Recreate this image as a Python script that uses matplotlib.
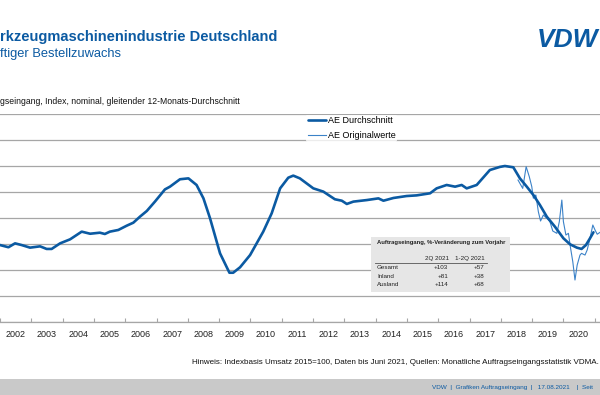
import matplotlib.pyplot as plt
from matplotlib.lines import Line2D

avg_time = [2002.00, 2002.27, 2002.48, 2002.69, 2002.96, 2003.28, 2003.49, 2003.65,
            2003.92, 2004.24, 2004.61, 2004.88, 2005.19, 2005.35, 2005.51, 2005.78,
            2006.05, 2006.26, 2006.47, 2006.69, 2006.95, 2007.27, 2007.43, 2007.75,
            2008.02, 2008.28, 2008.50, 2008.71, 2009.03, 2009.33, 2009.45, 2009.67,
            2009.99, 2010.41, 2010.68, 2010.95, 2011.21, 2011.37, 2011.58, 2012.01,
            2012.33, 2012.70, 2012.92, 2013.08, 2013.29, 2013.72, 2014.09, 2014.25,
            2014.57, 2014.99, 2015.31, 2015.74, 2015.95, 2016.27, 2016.54, 2016.75,
            2016.91, 2017.23, 2017.65, 2017.97, 2018.13, 2018.40, 2018.61, 2018.83,
            2019.04, 2019.25, 2019.47, 2019.73, 2020.00, 2020.21, 2020.43, 2020.58,
            2020.72, 2020.85, 2020.96]
avg_value = [59.2, 57.5, 60.5, 59.2, 57.2, 58.2, 56.2, 56.2,
             60.5, 63.6, 69.5, 67.9, 68.7, 67.7, 69.5, 70.8,
             74.1, 76.4, 81.0, 85.4, 92.6, 102.0, 104.1, 109.8,
             110.5, 105.4, 95.1, 79.8, 52.8, 37.9, 37.9, 42.1,
             51.5, 69.5, 83.6, 102.8, 111.0, 112.6, 110.5, 102.8,
             100.3, 94.4, 93.3, 90.8, 92.6, 93.8, 95.1, 93.3,
             95.4, 96.9, 97.4, 99.0, 102.8, 105.4, 104.1, 105.4,
             102.8, 105.4, 116.9, 119.3, 120.0, 119.0, 110.5, 104.1,
             97.7, 90.0, 81.0, 73.3, 64.4, 59.8, 57.2, 56.2,
             59.2, 64.4, 69.0]

orig_time = [2018.55, 2018.70, 2018.81, 2018.91, 2018.99, 2019.04, 2019.12, 2019.20,
             2019.27, 2019.36, 2019.47, 2019.57, 2019.66, 2019.79, 2019.87, 2019.95,
             2020.00, 2020.08, 2020.16, 2020.23, 2020.30, 2020.37, 2020.44, 2020.53,
             2020.58, 2020.69, 2020.76, 2020.85, 2020.94, 2021.01, 2021.08, 2021.17]
orig_value = [109.2, 102.8, 119.5, 111.8, 104.1, 95.2, 97.7, 84.8,
              77.7, 82.3, 79.8, 77.2, 70.0, 68.2, 77.2, 93.8,
              77.2, 66.9, 68.2, 56.7, 46.4, 32.3, 43.8, 51.5,
              52.8, 51.5, 55.4, 64.4, 74.6, 70.8, 67.5, 69.0]

years = list(range(2002, 2022))
label_years = list(range(2002, 2021))

table_cols = ["2Q 2021", "1-2Q 2021"]
table_rows = ["Gesamt", "Inland", "Ausland"]
table_q2 = ["+103", "+81", "+114"]
table_h1 = ["+57", "+38", "+68"]

W, H = 600, 395
BLUE = "#0b5aa2"
THIN = "#3b82c8"
GRID = "#a6a6a6"

plt.rcParams["font.family"] = ["Liberation Sans", "DejaVu Sans"]


def fx(x):
    return x / W


def fy(y):
    return 1 - y / H


fig = plt.figure(figsize=(6, 3.95), dpi=100)

# Kopfzeile
fig.text(fx(0), fy(37), "rkzeugmaschinenindustrie Deutschland", fontsize=10.5,
         fontweight="bold", color=BLUE, va="center", ha="left")
fig.text(fx(0), fy(54), "ftiger Bestellzuwachs", fontsize=9.3, color=BLUE,
         va="center", ha="left")
fig.text(fx(0), fy(101), "gseingang, Index, nominal, gleitender 12-Monats-Durchschnitt",
         fontsize=6.2, color="#111111", va="center", ha="left")

# Logo
fig.text(fx(598), fy(40), "VDW", fontsize=19, fontweight="bold", fontstyle="italic",
         color=BLUE, va="center", ha="right")
for yy in (41, 45, 49):
    fig.add_artist(Line2D([fx(536), fx(600)], [fy(yy), fy(yy)], color="white", lw=0.9))

# Diagramm
ax = fig.add_axes([0, fy(322), 1, (322 - 114) / H])
ax.plot(orig_time, orig_value, color=THIN, lw=0.8, label="AE Originalwerte", zorder=3)
ax.plot(avg_time, avg_value, color=BLUE, lw=1.9, label="AE Durchschnitt", zorder=4,
        solid_capstyle="round")
ax.set_xlim(2002.0, 2002 + W / 31.3)
ax.set_ylim(0, 160)
ax.set_yticks(range(0, 161, 20))
ax.yaxis.grid(True, color=GRID, lw=0.9)
ax.tick_params(axis="y", left=False, labelleft=False)
for s in ("top", "left", "right"):
    ax.spines[s].set_visible(False)
ax.spines["bottom"].set_color(GRID)
ax.spines["bottom"].set_linewidth(0.9)
ax.set_xticks(years)
ax.set_xticklabels([])
ax.set_xticks([y + 0.5 for y in label_years], minor=True)
ax.set_xticklabels([str(y) for y in label_years], minor=True, fontsize=6.5, color="#222222")
ax.tick_params(axis="x", which="major", direction="in", length=3, color=GRID)
ax.tick_params(axis="x", which="minor", length=0, pad=6)

handles, labels = ax.get_legend_handles_labels()
leg = ax.legend(handles[::-1], labels[::-1], loc="upper left",
                bbox_to_anchor=(fx(306), fy(114.5)), bbox_transform=fig.transFigure,
                frameon=True, fontsize=6.5, handlelength=2.0, handletextpad=0.2,
                labelspacing=0.6, borderpad=0.2, borderaxespad=0)
leg.get_frame().set_facecolor("white")
leg.get_frame().set_edgecolor("none")
leg.set_zorder(5)

# Tabelle
box = plt.Rectangle((fx(371), fy(292)), fx(510) - fx(371), (292 - 237) / H,
                    transform=fig.transFigure, facecolor="#e6e6e6", edgecolor="none",
                    zorder=6)
fig.add_artist(box)
fig.text(fx(377), fy(243), "Auftragseingang, %-Veränderung zum Vorjahr", fontsize=4.2,
         fontweight="bold", color="#222222", va="center", zorder=7)
fig.text(fx(449), fy(258.5), table_cols[0], fontsize=4.5, ha="right", va="center",
         color="#222222", zorder=7)
fig.text(fx(485), fy(258.5), table_cols[1], fontsize=4.5, ha="right", va="center",
         color="#222222", zorder=7)
fig.add_artist(Line2D([fx(375), fx(487)], [fy(262.7), fy(262.7)], color="#555555",
                      lw=0.6, zorder=7))
for i, name in enumerate(table_rows):
    yy = 267.3 + i * 8.7
    fig.text(fx(377), fy(yy), name, fontsize=4.5, va="center", color="#222222", zorder=7)
    fig.text(fx(448), fy(yy), table_q2[i], fontsize=4.5, ha="right", va="center",
             color="#222222", zorder=7)
    fig.text(fx(484), fy(yy), table_h1[i], fontsize=4.5, ha="right", va="center",
             color="#222222", zorder=7)

# Fußzeile
fig.text(fx(599), fy(363),
         "Hinweis: Indexbasis Umsatz 2015=100, Daten bis Juni 2021, Quellen: "
         "Monatliche Auftragseingangsstatistik VDMA.",
         fontsize=5.8, ha="right", va="center", color="#111111")
fig.add_artist(plt.Rectangle((0, 0), 1, (395 - 379) / H, transform=fig.transFigure,
                             facecolor="#c9c9c9", edgecolor="none"))
fig.text(fx(432), fy(387), "VDW  |  Grafiken Auftragseingang  |   17.08.2021    |  Seit",
         fontsize=4.6, ha="left", va="center", color=BLUE)

fig.savefig("out.png", dpi=100)
